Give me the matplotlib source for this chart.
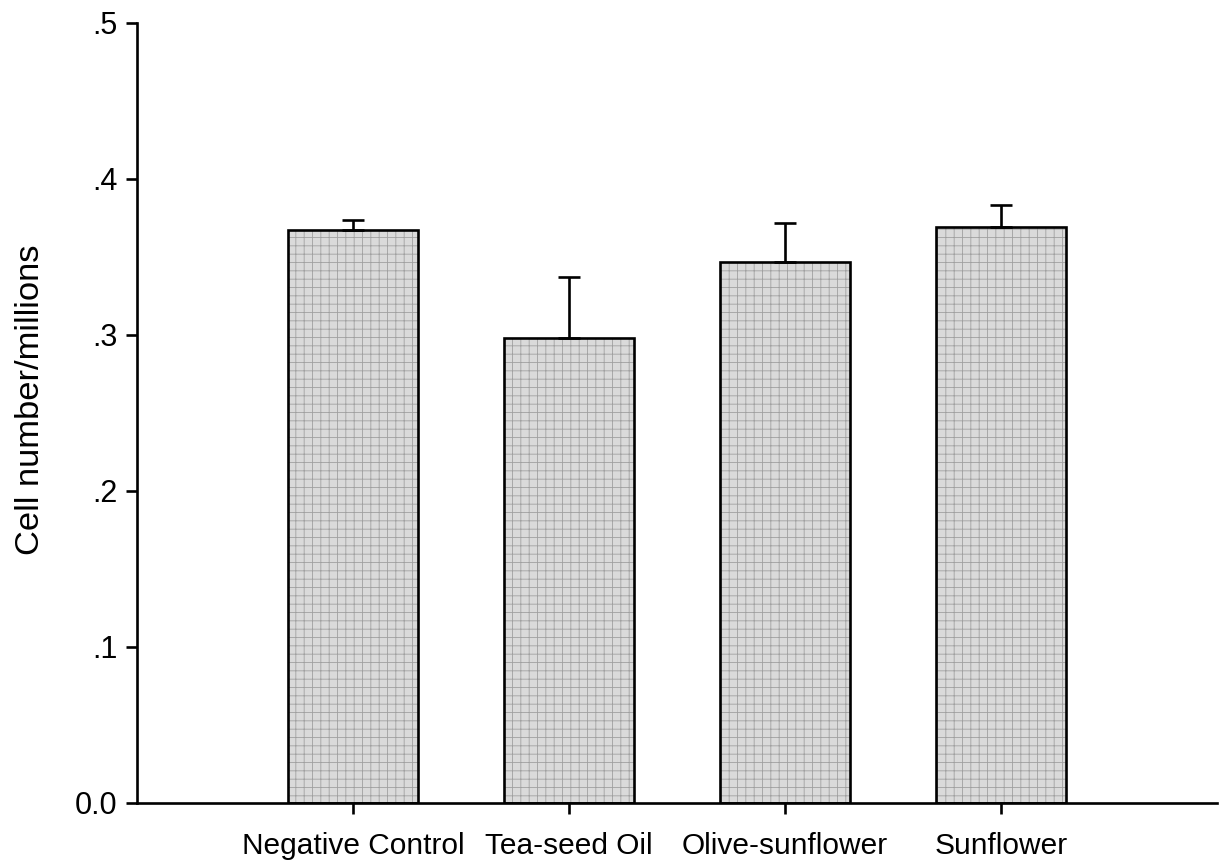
import matplotlib
matplotlib.use("Agg")
import matplotlib.pyplot as plt

categories = ["Negative Control", "Tea-seed Oil", "Olive-sunflower", "Sunflower"]
means = [0.367, 0.298, 0.347, 0.369]
errors = [0.0065, 0.039, 0.025, 0.0145]
yticks = [0.0, 0.1, 0.2, 0.3, 0.4, 0.5]
ytick_labels = ["0.0", ".1", ".2", ".3", ".4", ".5"]

plt.rcParams["font.family"] = ["Liberation Sans", "DejaVu Sans"]
plt.rcParams["hatch.linewidth"] = 0.6

fig = plt.figure(figsize=(12.19, 8.68), dpi=100)
ax = fig.add_axes([137 / 1219, 1 - 803 / 868, 1080 / 1219, 780 / 868])

x = list(range(1, len(categories) + 1))
# textured fill
ax.bar(x, means, width=0.6, color="#dadada", edgecolor="#a0a0a0",
       hatch="++", linewidth=0, zorder=2)
# outlines
ax.bar(x, means, width=0.6, color="none", edgecolor="black",
       linewidth=1.9, zorder=3)
ax.errorbar(x, means, yerr=[[0] * len(errors), errors], fmt="none",
            ecolor="black", elinewidth=1.9, capsize=8, capthick=1.9, zorder=4)

ax.set_xlim(0, 5)
ax.set_ylim(0, 0.5)
ax.set_xticks(x)
ax.set_xticklabels(categories, fontsize=21.5)
ax.set_yticks(yticks)
ax.set_yticklabels(ytick_labels, fontsize=22)

for s in ["top", "right"]:
    ax.spines[s].set_visible(False)
for s in ["left", "bottom"]:
    ax.spines[s].set_linewidth(1.9)

ax.tick_params(axis="both", direction="out", length=8, width=1.9, pad=6)
ax.tick_params(axis="x", pad=13)

ax.set_ylabel("Cell number/millions", fontsize=24.8)
ax.yaxis.set_label_coords(-0.084, 0.517)

fig.savefig("out.png", dpi=100)
